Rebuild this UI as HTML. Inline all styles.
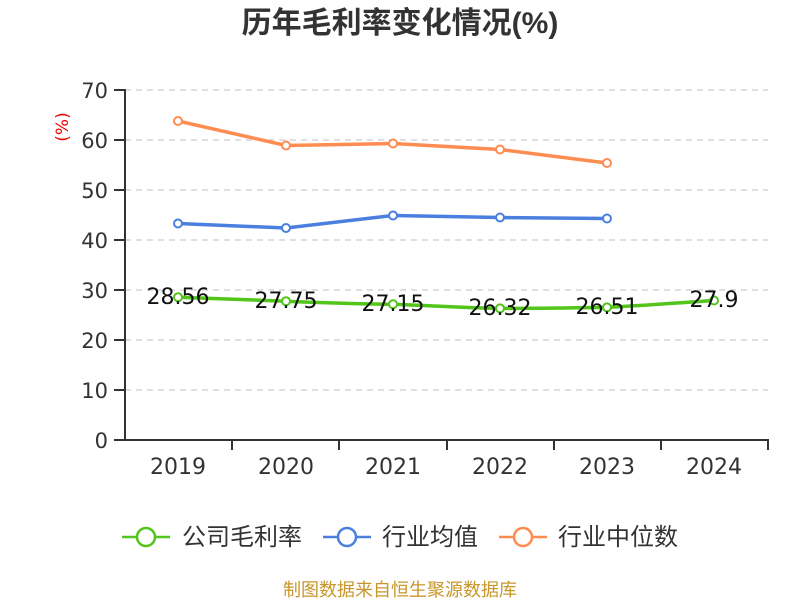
<!DOCTYPE html>
<html><head><meta charset="utf-8"><style>body{margin:0;background:#fff}svg{display:block}text{font-family:"DejaVu Sans","Noto Sans CJK SC",sans-serif}</style></head><body>
<svg width="800" height="600" viewBox="0 0 800 600">
<text x="400" y="33" text-anchor="middle" font-size="30" font-weight="bold" fill="#333" style="font-family:'Liberation Sans','Noto Sans CJK SC',sans-serif">历年毛利率变化情况(%)</text>
<text transform="translate(68,127) rotate(-90)" text-anchor="middle" font-size="17" fill="#e00">(%)</text>
<g stroke="#ccc" stroke-dasharray="6,5" stroke-width="1.3">
<line x1="125" y1="90" x2="768" y2="90"/><line x1="125" y1="140" x2="768" y2="140"/><line x1="125" y1="190" x2="768" y2="190"/><line x1="125" y1="240" x2="768" y2="240"/><line x1="125" y1="290" x2="768" y2="290"/><line x1="125" y1="340" x2="768" y2="340"/><line x1="125" y1="390" x2="768" y2="390"/>
</g>
<g stroke="#333" stroke-width="2">
<line x1="125" y1="89" x2="125" y2="441"/><line x1="124" y1="440" x2="769" y2="440"/>
<line x1="114" y1="90" x2="125" y2="90"/><line x1="114" y1="140" x2="125" y2="140"/><line x1="114" y1="190" x2="125" y2="190"/><line x1="114" y1="240" x2="125" y2="240"/><line x1="114" y1="290" x2="125" y2="290"/><line x1="114" y1="340" x2="125" y2="340"/><line x1="114" y1="390" x2="125" y2="390"/><line x1="114" y1="440" x2="125" y2="440"/>
<line x1="232" y1="440" x2="232" y2="450"/><line x1="339" y1="440" x2="339" y2="450"/><line x1="447" y1="440" x2="447" y2="450"/><line x1="554" y1="440" x2="554" y2="450"/><line x1="661" y1="440" x2="661" y2="450"/><line x1="768" y1="440" x2="768" y2="450"/>
</g>
<g font-size="21" fill="#333" text-anchor="end">
<text x="108" y="98">70</text><text x="108" y="148">60</text><text x="108" y="198">50</text><text x="108" y="248">40</text><text x="108" y="298">30</text><text x="108" y="348">20</text><text x="108" y="398">10</text><text x="108" y="448">0</text>
</g>
<g font-size="22" fill="#333" text-anchor="middle">
<text x="178" y="474">2019</text><text x="286" y="474">2020</text><text x="393" y="474">2021</text><text x="500" y="474">2022</text><text x="607" y="474">2023</text><text x="714" y="474">2024</text>
</g>
<g fill="none" stroke-width="3.5">
<path d="M178,121 L286,145.5 L393,143.5 L500,149.5 L607,163" stroke="#ff8c50"/>
<path d="M178,223.5 L286,228 L393,215.5 L500,217.5 L607,218.5" stroke="#4a7fe0"/>
<path d="M178,297.2 C230,299 260,300 286,301.2 C330,303 360,304 393,304.2 C440,306 470,308 500,308.4 C540,308.5 570,308 607,307.4 C650,305 690,302 714,300.5" stroke="#52c41a"/>
</g>
<g fill="#fff" stroke-width="2">
<g stroke="#ff8c50"><circle cx="178" cy="121" r="4"/><circle cx="286" cy="145.5" r="4"/><circle cx="393" cy="143.5" r="4"/><circle cx="500" cy="149.5" r="4"/><circle cx="607" cy="163" r="4"/></g>
<g stroke="#4a7fe0"><circle cx="178" cy="223.5" r="4"/><circle cx="286" cy="228" r="4"/><circle cx="393" cy="215.5" r="4"/><circle cx="500" cy="217.5" r="4"/><circle cx="607" cy="218.5" r="4"/></g>
<g stroke="#52c41a"><circle cx="178" cy="297.2" r="4"/><circle cx="286" cy="301.2" r="4"/><circle cx="393" cy="304.2" r="4"/><circle cx="500" cy="308.4" r="4"/><circle cx="607" cy="307.4" r="4"/><circle cx="714" cy="300.5" r="4"/></g>
</g>
<g font-size="22" fill="#111" text-anchor="middle">
<text x="178" y="304">28.56</text><text x="286" y="308">27.75</text><text x="393" y="311">27.15</text><text x="500" y="315">26.32</text><text x="607" y="314">26.51</text><text x="714" y="307">27.9</text>
</g>
<g stroke-width="2.5" fill="#fff">
<line x1="122" y1="537" x2="170" y2="537" stroke="#52c41a"/><circle cx="146" cy="537" r="9" stroke="#52c41a"/>
<line x1="323" y1="537" x2="371" y2="537" stroke="#4a7fe0"/><circle cx="347" cy="537" r="9" stroke="#4a7fe0"/>
<line x1="499" y1="537" x2="547" y2="537" stroke="#ff8c50"/><circle cx="523" cy="537" r="9" stroke="#ff8c50"/>
</g>
<g font-size="24" fill="#333">
<text x="182" y="545">公司毛利率</text><text x="382" y="545">行业均值</text><text x="558" y="545">行业中位数</text>
</g>
<text x="400" y="596" text-anchor="middle" font-size="18" fill="#c8962a">制图数据来自恒生聚源数据库</text>
</svg>
</body></html>
